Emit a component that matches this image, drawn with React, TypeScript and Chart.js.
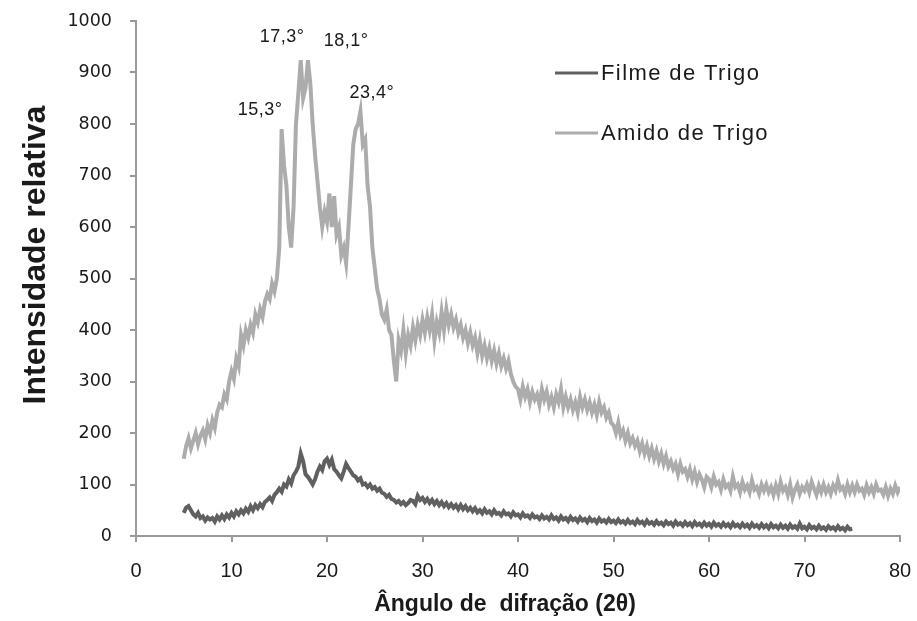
import React, { useEffect, useRef } from "react";
import { Chart, registerables } from "chart.js";

Chart.register(...registerables);

// ---- DATA ----
const AMIDO_START = 5;
const FILME_START = 5;
const STEP = 0.25;

const amidoLabel = "Amido de Trigo";
const filmeLabel = "Filme de Trigo";

// Amido de Trigo, 5° .. 80° every 0.25°
const amidoValues = [
  150, 175, 190, 170,
  185, 200, 178, 195,
  205, 188, 215, 200,
  225, 210, 240, 255,
  250, 275, 265, 300,
  320, 305, 345, 330,
  390, 370, 400, 385,
  410, 395, 430, 415,
  440, 425, 455, 470,
  460, 490, 475, 500,
  560, 790, 720, 680,
  600, 560, 640, 800,
  860, 924, 850, 870,
  924, 880, 800, 740,
  690, 640, 600, 630,
  610, 665, 600, 660,
  585, 600, 545, 560,
  530, 600, 680, 760,
  790, 800, 825, 760,
  770, 680, 640, 560,
  520, 480, 460, 430,
  420, 440, 400, 390,
  340, 300, 380, 360,
  400, 355, 390, 370,
  405, 380, 410, 390,
  420, 395, 425, 400,
  430, 380, 415, 395,
  435, 400, 440, 410,
  430, 405, 420, 395,
  410, 385, 400, 375,
  395, 370, 385, 355,
  380, 350, 370, 345,
  365, 340, 360, 335,
  355, 330, 345, 325,
  340, 315, 300, 290,
  285, 265, 290, 270,
  285, 260, 280, 265,
  275, 255, 285, 265,
  280, 255, 270, 250,
  275, 260, 285, 250,
  270, 250, 265, 245,
  260, 240, 270, 250,
  265, 245, 260, 240,
  255, 235, 260, 240,
  250, 230, 240, 220,
  215, 200, 220, 195,
  205, 185, 200, 180,
  190, 175, 185, 165,
  180, 160, 175, 155,
  170, 150, 165, 145,
  160, 140, 155, 135,
  145, 130, 140, 120,
  140, 125, 130, 115,
  130, 110, 125, 105,
  120, 110, 95, 115,
  110, 95, 115, 100,
  105, 90, 110, 95,
  100, 88, 115, 95,
  100, 85, 105, 90,
  98, 85, 108, 90,
  95, 82, 100, 88,
  100, 85, 95, 80,
  98, 82, 105, 88,
  95, 80, 100, 75,
  90, 100, 82, 95,
  88, 100, 85, 105,
  92, 80, 98, 85,
  100, 85, 95, 82,
  98, 88, 108, 90,
  95, 82, 100, 85,
  98, 85, 100, 88,
  92, 80, 98, 85,
  95, 82, 100, 88,
  90, 80, 95, 78,
  92, 82, 98, 85,
  95,
];

// Filme de Trigo, 5° .. 75° every 0.25°
const filmeValues = [
  45, 55, 58, 50,
  42, 38, 45, 35,
  38, 30, 36, 32,
  35, 28, 38, 32,
  40, 33, 42, 36,
  45, 38, 48, 42,
  50, 44, 53, 47,
  58, 50, 60, 54,
  62, 56, 66, 70,
  75, 68, 80, 85,
  92, 86, 100, 96,
  110, 102, 118, 125,
  135, 160, 145, 120,
  115, 108, 100, 110,
  125, 135, 128, 145,
  150, 138, 148, 130,
  125, 118, 112, 125,
  140, 132, 125, 118,
  115, 108, 112, 100,
  102, 95, 100, 92,
  95, 88, 92, 84,
  82, 76, 80, 72,
  70, 65, 68, 62,
  66, 60, 64, 70,
  68, 62, 78, 70,
  74, 66, 72, 64,
  70, 62, 68, 60,
  66, 58, 64, 56,
  62, 55, 60, 52,
  60, 52, 58, 50,
  55, 48, 54, 46,
  50, 44, 52, 45,
  48, 42, 50, 43,
  45, 40, 48, 42,
  44, 38, 46, 40,
  42, 36, 44, 38,
  40, 35, 42, 36,
  38, 33, 40, 34,
  37, 32, 40, 33,
  36, 30, 38, 32,
  35, 29, 37, 31,
  34, 28, 36, 30,
  33, 27, 35, 29,
  32, 26, 34, 28,
  31, 26, 33, 27,
  30, 25, 32, 26,
  29, 24, 31, 25,
  28, 23, 31, 25,
  28, 22, 30, 24,
  27, 22, 29, 23,
  26, 21, 28, 23,
  26, 20, 28, 22,
  25, 20, 27, 21,
  25, 19, 27, 21,
  24, 19, 26, 20,
  24, 18, 26, 20,
  23, 18, 25, 19,
  23, 17, 25, 19,
  22, 17, 24, 18,
  22, 16, 24, 18,
  21, 16, 23, 17,
  21, 15, 23, 17,
  20, 15, 22, 16,
  20, 14, 22, 16,
  19, 14, 24, 15,
  18, 13, 21, 15,
  18, 13, 20, 14,
  17, 12, 19, 14,
  17, 12, 19, 13,
  16, 11, 18, 13,
  14,
];

// Peak labels
const peakTexts = ["15,3°", "17,3°", "18,1°", "23,4°"];

// ---- STYLE / LAYOUT ----
const peakPositions = [
  { x: 13.0, y: 827 },
  { x: 15.3, y: 969 },
  { x: 22.0, y: 961 },
  { x: 24.7, y: 860 },
];
const AMIDO_COLOR = "#acacac";
const FILME_COLOR = "#606060";
const AXIS_COLOR = "#9a9a9a";
const TEXT_COLOR = "#1a1a1a";

const toPoints = (start: number, vals: number[]) =>
  vals.map((v, i) => ({ x: start + i * STEP, y: v }));

const overlayPlugin = {
  id: "overlay",
  afterDraw(chart: any) {
    const ctx = chart.ctx as CanvasRenderingContext2D;
    const xs = chart.scales.x;
    const ys = chart.scales.y;
    ctx.save();
    ctx.fillStyle = TEXT_COLOR;

    // Peak annotations
    ctx.font = "18px 'Liberation Sans', Arial, sans-serif";
    (ctx as any).letterSpacing = "0.5px";
    ctx.textAlign = "center";
    ctx.textBaseline = "middle";
    peakTexts.forEach((t, i) => {
      const p = peakPositions[i];
      ctx.fillText(t, xs.getPixelForValue(p.x), ys.getPixelForValue(p.y));
    });

    // Legend
    const items = [
      { label: chart.data.datasets[0].label, color: chart.data.datasets[0].borderColor, y: 73 },
      { label: chart.data.datasets[1].label, color: chart.data.datasets[1].borderColor, y: 133 },
    ];
    ctx.font = "22px 'Liberation Sans', Arial, sans-serif";
    (ctx as any).letterSpacing = "1.4px";
    ctx.textAlign = "left";
    items.forEach((it) => {
      ctx.strokeStyle = it.color;
      ctx.lineWidth = 3;
      ctx.beginPath();
      ctx.moveTo(555, it.y);
      ctx.lineTo(598, it.y);
      ctx.stroke();
      ctx.fillText(it.label, 601, it.y + 1);
    });

    // Axis titles
    (ctx as any).letterSpacing = "0px";
    ctx.font = "bold 23px 'Liberation Sans', Arial, sans-serif";
    ctx.textAlign = "center";
    ctx.textBaseline = "alphabetic";
    ctx.fillText("Ângulo de  difração (2θ)", 505, 611);

    ctx.translate(45, 255);
    ctx.rotate(-Math.PI / 2);
    ctx.font = "bold 32px 'Liberation Sans', Arial, sans-serif";
    ctx.fillText("Intensidade relativa", 0, 0);
    ctx.restore();
  },
};

export default function App() {
  const ref = useRef<HTMLCanvasElement | null>(null);
  useEffect(() => {
    document.body.style.margin = "0";
    if (!ref.current) return;
    const chart = new Chart(ref.current, {
      type: "line",
      data: {
        datasets: [
          {
            label: filmeLabel,
            data: toPoints(FILME_START, filmeValues),
            borderColor: FILME_COLOR,
            borderWidth: 4,
            pointRadius: 0,
            tension: 0,
          },
          {
            label: amidoLabel,
            data: toPoints(AMIDO_START, amidoValues),
            borderColor: AMIDO_COLOR,
            borderWidth: 4,
            pointRadius: 0,
            tension: 0,
          },
        ],
      },
      options: {
        animation: false,
        responsive: false,
        devicePixelRatio: 1,
        layout: { padding: { top: 21, right: 17, left: 0, bottom: 0 } },
        plugins: { legend: { display: false }, tooltip: { enabled: false } },
        scales: {
          x: {
            type: "linear",
            min: 0,
            max: 80,
            ticks: {
              stepSize: 10,
              color: TEXT_COLOR,
              padding: 17,
              maxRotation: 0,
              font: { family: "'Liberation Sans', Arial", size: 20 },
            },
            grid: { drawOnChartArea: false, drawTicks: true, tickLength: 6, color: AXIS_COLOR, lineWidth: 2 },
            border: { color: AXIS_COLOR, width: 2 },
            afterFit: (s: any) => {
              s.height = 85;
              s.paddingLeft = 0;
              s.paddingRight = 0;
            },
          },
          y: {
            min: 0,
            max: 1000,
            ticks: {
              stepSize: 100,
              color: TEXT_COLOR,
              padding: 18,
              callback: (v: any) => String(v),
              font: { family: "'DejaVu Sans', Verdana, sans-serif", size: 17.5 },
            },
            grid: { drawOnChartArea: false, drawTicks: true, tickLength: 6, color: AXIS_COLOR, lineWidth: 2 },
            border: { color: AXIS_COLOR, width: 2 },
            afterFit: (s: any) => {
              s.width = 136;
              s.paddingTop = 0;
              s.paddingBottom = 0;
            },
          },
        },
      },
      plugins: [overlayPlugin],
    });
    return () => chart.destroy();
  }, []);
  return <canvas ref={ref} width={917} height={621} style={{ display: "block", width: 917, height: 621 }} />;
}
